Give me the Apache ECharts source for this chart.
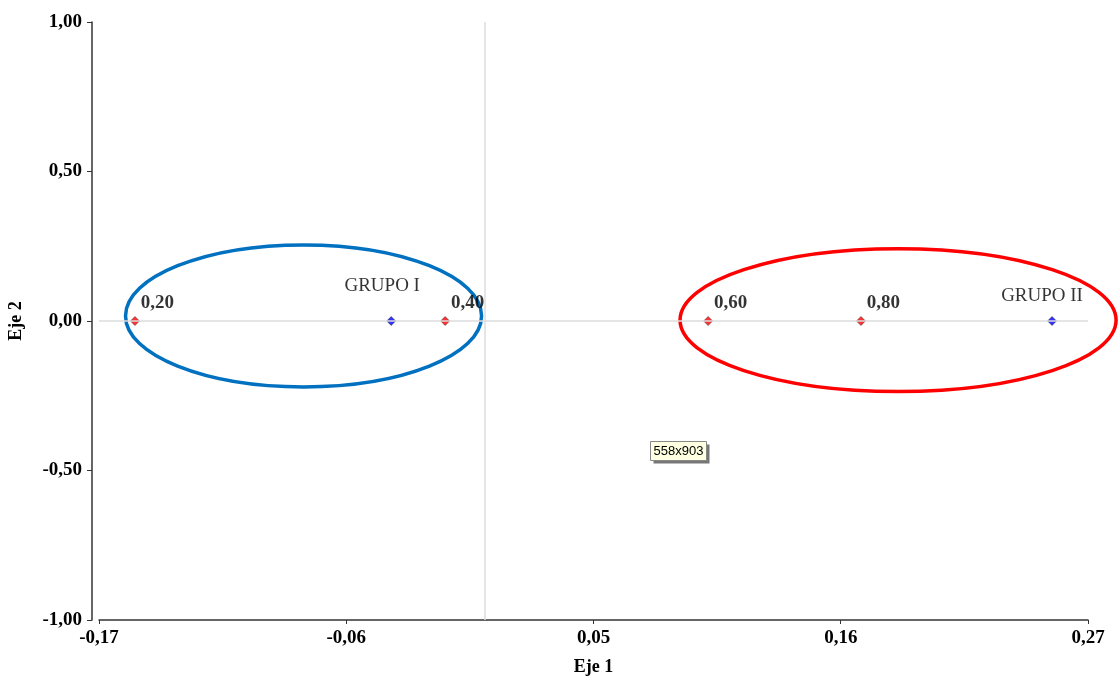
<!DOCTYPE html>
<html>
<head>
<meta charset="utf-8">
<script src="https://cdn.jsdelivr.net/npm/echarts@6/dist/echarts.min.js"></script>
<style>
  html, body { margin: 0; padding: 0; background: #fff; }
  #chart { width: 1119px; height: 676px; }
</style>
</head>
<body>
<div id="chart"></div>
<script>
// niveles (puntos rojos)
const levelX = [-0.154, -0.016, 0.101, 0.169];
const levelY = [0, 0, 0, 0];
const levelLabels = ['0,20', '0,40', '0,60', '0,80'];

// grupos (puntos azules)
const groupX = [-0.040, 0.254];
const groupY = [0, 0];
const groupLabels = ['GRUPO I', 'GRUPO II'];

// elipses: centro x, centro y, radio x, radio y (unidades de los ejes)
const ellipseBlue = [-0.079, 0.017, 0.0792, 0.2375];
const ellipseRed = [0.1855, 0.003, 0.097, 0.239];

const xTicks = { min: -0.17, max: 0.27, interval: 0.11 };
const yTicks = { min: -1, max: 1, interval: 0.5 };

const fmt = v => v.toFixed(2).replace('.', ',').replace('-0,00', '0,00');
const serif = 'Liberation Serif';

let myChart = echarts.init(document.getElementById('chart'));

function ellipseSeries(e, color) {
  return {
    type: 'custom',
    silent: true,
    clip: false,
    z: 1,
    data: [e],
    renderItem(params, api) {
      let c = api.coord([api.value(0), api.value(1)]);
      let s = api.size([api.value(2), api.value(3)]);
      return {
        type: 'ellipse',
        shape: { cx: c[0], cy: c[1], rx: s[0], ry: s[1] },
        style: { fill: 'none', stroke: color, lineWidth: 3.5 }
      };
    }
  };
}

let option = {
  animation: false,
  backgroundColor: '#fff',
  grid: { left: 99, right: 31, top: 22, bottom: 56, outerBoundsMode: 'none', containLabel: false },
  xAxis: {
    type: 'value',
    min: xTicks.min, max: xTicks.max, interval: xTicks.interval,
    name: 'Eje 1', nameLocation: 'middle', nameGap: 38,
    nameTextStyle: { fontFamily: serif, fontWeight: 'bold', fontSize: 18, color: '#000' },
    axisLine: { onZero: false, lineStyle: { color: '#333', width: 1.5 } },
    axisTick: { show: true, length: 4, lineStyle: { color: '#333' } },
    axisLabel: { formatter: fmt, fontFamily: serif, fontWeight: 'bold', fontSize: 19, color: '#000', margin: 9 },
    splitLine: { show: false }
  },
  yAxis: {
    type: 'value',
    min: yTicks.min, max: yTicks.max, interval: yTicks.interval,
    offset: 7,
    name: 'Eje 2', nameLocation: 'middle', nameGap: 67,
    nameTextStyle: { fontFamily: serif, fontWeight: 'bold', fontSize: 18, color: '#000' },
    axisLine: { show: true, onZero: false, lineStyle: { color: '#333', width: 1.5 } },
    axisTick: { show: true, length: 5, lineStyle: { color: '#333' } },
    axisLabel: { formatter: fmt, fontFamily: serif, fontWeight: 'bold', fontSize: 19, color: '#000', margin: 10 },
    splitLine: { show: false }
  },
  series: [
    {
      // líneas de referencia (origen)
      type: 'scatter',
      z: 0,
      silent: true,
      data: [],
      markLine: {
        silent: true,
        symbol: 'none',
        precision: 4,
        label: { show: false },
        lineStyle: { color: '#dcdcdc', width: 1.5, type: 'solid' },
        data: [{ yAxis: 0 }, { xAxis: 0.0018 }]
      }
    },
    {
      type: 'scatter',
      z: 3,
      symbol: 'diamond',
      symbolSize: 9,
      itemStyle: { color: '#ff0000', borderColor: '#222', borderWidth: 0.6 },
      label: {
        show: true,
        position: 'right',
        offset: [-4, -18],
        formatter: p => levelLabels[p.dataIndex],
        fontFamily: serif, fontWeight: 'bold', fontSize: 19, color: '#000',
        textBorderWidth: 0
      },
      data: levelX.map((x, i) => [x, levelY[i]])
    },
    {
      type: 'scatter',
      z: 3,
      symbol: 'diamond',
      symbolSize: 9,
      itemStyle: { color: '#0000ff', borderColor: '#222', borderWidth: 0.6 },
      label: {
        show: true,
        position: 'top',
        formatter: p => groupLabels[p.dataIndex],
        fontFamily: serif, fontSize: 19, color: '#000',
        textBorderWidth: 0
      },
      labelLayout: p => p.dataIndex === 0 ? { dx: -9, dy: -16 } : { dx: -10, dy: -6 },
      data: groupX.map((x, i) => [x, groupY[i]])
    },
    ellipseSeries(ellipseBlue, '#0070c0'),
    ellipseSeries(ellipseRed, '#ff0000')
  ],
  graphic: [
    {
      type: 'group',
      left: 650, top: 441,
      children: [
        { type: 'rect', shape: { x: 3, y: 3, width: 56, height: 19 }, style: { fill: '#777' } },
        { type: 'rect', shape: { x: 0, y: 0, width: 56, height: 19 }, style: { fill: '#ffffe1', stroke: '#888', lineWidth: 1 } },
        { type: 'text', style: { x: 3, y: 3, text: '558x903', fontFamily: 'Liberation Sans', fontSize: 13, fill: '#000' } }
      ]
    }
  ]
};

myChart.setOption(option);
</script>
</body>
</html>
